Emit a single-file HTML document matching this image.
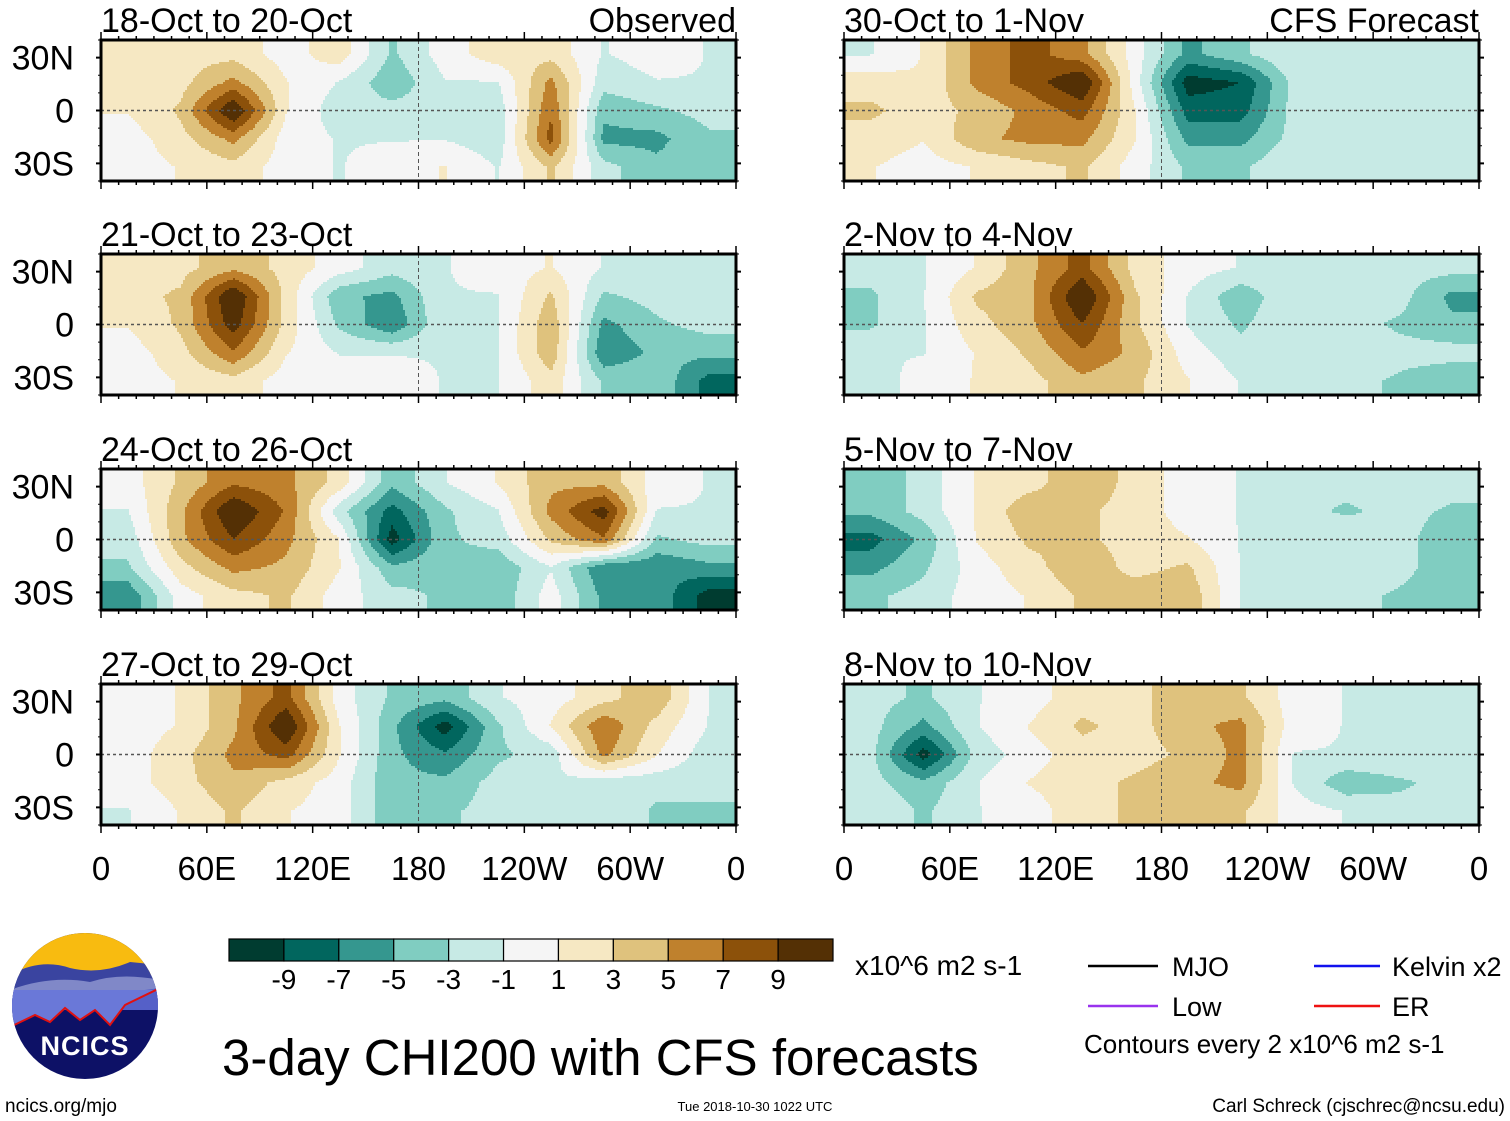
<!DOCTYPE html>
<html><head><meta charset="utf-8"><style>
html,body{margin:0;padding:0;background:#fff;width:1510px;height:1121px;overflow:hidden}
svg{display:block;font-family:"Liberation Sans",Arial,sans-serif}
</style></head><body>
<svg id="chart" width="1510" height="1121" viewBox="0 0 1510 1121" xmlns="http://www.w3.org/2000/svg">
<g id="panels"></g>
<g id="labels"></g>
<g id="cbar"></g>
<text x="855" y="975" font-size="28">x10^6 m2 s-1</text>
<g>
<line x1="1088" y1="966" x2="1158" y2="966" stroke="#000" stroke-width="2.5"/>
<text x="1172" y="976" font-size="27">MJO</text>
<line x1="1088" y1="1006" x2="1158" y2="1006" stroke="#9933ee" stroke-width="2.5"/>
<text x="1172" y="1016" font-size="27">Low</text>
<line x1="1314" y1="966" x2="1380" y2="966" stroke="#1111ee" stroke-width="2.5"/>
<text x="1392" y="976" font-size="27">Kelvin x2</text>
<line x1="1314" y1="1006" x2="1380" y2="1006" stroke="#ee1111" stroke-width="2.5"/>
<text x="1392" y="1016" font-size="27">ER</text>
<text x="1084" y="1053" font-size="26">Contours every 2 x10^6 m2 s-1</text>
</g>
<text x="222" y="1075" font-size="51">3-day CHI200 with CFS forecasts</text>
<text x="5" y="1112" font-size="19">ncics.org/mjo</text>
<text x="755" y="1111" font-size="13" text-anchor="middle">Tue 2018-10-30 1022 UTC</text>
<text x="1505" y="1112" font-size="19" text-anchor="end">Carl Schreck (cjschrec@ncsu.edu)</text>
<g>
<clipPath id="lc"><circle cx="85" cy="1006" r="73"/></clipPath>
<g clip-path="url(#lc)">
<rect x="10" y="930" width="150" height="155" fill="#0d1166"/>
<rect x="10" y="930" width="150" height="45" fill="#f8bb10"/>
<path d="M10 975 Q40 958 70 968 Q100 975 130 962 L160 965 L160 1010 L10 1010Z" fill="#3a44a0"/>
<path d="M10 990 Q50 975 90 982 Q120 972 160 980 L160 1010 L10 1010Z" fill="#8088c8"/>
<path d="M10 1000 Q60 990 100 996 L160 988 L160 1010 L10 1010Z" fill="#5560c8"/>
<path d="M10 1027 L35 1015 L50 1022 L65 1008 L80 1020 L95 1010 L110 1025 L125 1005 L160 988 L160 990 L10 990Z" fill="#6a78d8"/>
<path d="M10 1027 L35 1015 L50 1022 L65 1008 L80 1020 L95 1010 L110 1025 L125 1005 L160 988" fill="none" stroke="#e01010" stroke-width="2"/>
</g>
<text x="85" y="1055" font-size="27" font-weight="bold" fill="#fff" text-anchor="middle" letter-spacing="1">NCICS</text>
</g>
</svg>
<script>
// Colour levels (BrBG), contour levels
const levels = [-9,-7,-5,-3,-1,1,3,5,7,9];
const palette = ["#003c30","#01665e","#35978f","#80cdc1","#c7eae5","#f5f5f5","#f6e8c3","#dfc27d","#bf812d","#8c510a","#543005"];
const lonTicks = ["0","60E","120E","180","120W","60W","0"];
const latTicks = ["30N","0","30S"];
const latValues = [30,0,-30];
// grid: cols centered at lon 15,45,...,345 ; rows at lat 32,16,0,-16,-32
const gridLons = [15,45,75,105,135,165,195,225,255,285,315,345];
const gridLats = [32,16,0,-16,-32];
const titles = ["18-Oct to 20-Oct","21-Oct to 23-Oct","24-Oct to 26-Oct","27-Oct to 29-Oct","30-Oct to 1-Nov","2-Nov to 4-Nov","5-Nov to 7-Nov","8-Nov to 10-Nov"];
const p1 = [[2,2,2,0,2,-3,0,2,2,-1,0,-1],[1,2,5,1,-1,-4,-1,-1,5,-2,-1,-1],[1,3,10,1,-2,-2,-2,-2,6,-4,-3,-2],[0,2,5,0,-1,-1,-1,-2,7,-5,-5,-3],[0,1,2,0,-1,0,1,-1,3,-2,-4,-3]];
const p2 = [[2,2,4,2,0,-2,-1,0,1,-1,-1,-1],[2,3,10,2,-4,-5,-1,-1,3,-3,-2,-1],[1,3,9,2,-3,-6,-1,-1,4,-5,-3,-2],[0,2,6,1,-1,-1,-1,-1,4,-6,-4,-4],[0,1,2,0,0,0,-1,-1,2,-3,-3,-7]];
const p3 = [[0,3,6,5,2,-4,-1,1,4,4,0,-1],[-1,4,10,6,-2,-7,-3,-1,5,9,-1,-1],[-2,4,8,5,1,-9,-3,-2,3,6,-3,-2],[-3,2,5,4,1,-4,-3,-4,-1,-6,-6,-5],[-6,0,2,3,0,-2,-3,-4,0,-5,-5,-9]];
const p4 = [[0,1,4,7,0,-3,-4,-1,0,2,4,-1],[0,1,4,10,1,-4,-9,-3,1,6,2,-1],[0,2,5,7,1,-4,-6,-3,-2,5,1,-2],[0,2,4,2,0,-4,-4,-2,-1,-2,-2,-2],[-1,1,3,1,0,-4,-3,-2,-1,-1,-3,-3]];
const p5 = [[-1,1,5,7,5,0,-5,-3,-1,-1,-1,-2],[2,1,5,7,10,0,-9,-8,-2,-1,-1,-1],[3,2,3,5,7,1,-7,-7,-2,-1,-2,-1],[2,1,4,5,5,1,-5,-5,-2,-2,-2,-2],[1,0,1,2,3,0,-3,-3,-1,-1,-2,-2]];
const p6 = [[-2,-1,1,4,7,2,0,-1,-1,-2,-2,-2],[-3,-1,3,4,10,3,-1,-4,-1,-2,-2,-5],[-3,-1,2,4,8,3,-1,-3,-1,-2,-3,-4],[-1,-1,1,3,6,4,0,-2,-1,-1,-2,-2],[-2,0,1,2,4,3,1,-1,-1,-2,-3,-4]];
const p7 = [[-4,-2,1,2,4,2,0,-1,-2,-2,-1,-2],[-4,-2,1,4,3,2,0,-1,-2,-3,-2,-3],[-7,-4,1,3,3,2,1,-1,-1,-1,-2,-4],[-5,-3,0,2,4,2,3,-1,-2,-1,-2,-4],[-3,-2,0,1,3,4,4,-1,-1,-2,-3,-4]];
const p8 = [[-2,-3,-1,0,2,2,4,3,0,-1,-1,-1],[-2,-5,-1,1,3,2,4,5,0,-1,-1,-2],[-2,-9,-2,0,2,2,3,5,-1,-1,-1,-2],[-2,-4,-1,1,2,3,4,5,-1,-4,-3,-2],[-1,-3,-1,0,2,3,3,3,0,-1,-2,-2]];
const fields = [p1,p2,p3,p4,p5,p6,p7,p8];

const NS="http://www.w3.org/2000/svg";
function mk(tag, attrs, parent){const e=document.createElementNS(NS,tag);for(const k in attrs)e.setAttribute(k,attrs[k]);parent.appendChild(e);return e;}
const PW=635, PH=141, LAT0=40, LAT1=-40;
const panelX=[101,101,101,101,844,844,844,844];
const panelY=[40,254,469,684,40,254,469,684];
function xOf(px,lon){return px+lon/360*PW;}
function yOf(py,lat){return py+(LAT0-lat)/(LAT0-LAT1)*PH;}
function colorOf(v){let i=0;while(i<levels.length&&v>=levels[i])i++;return palette[i];}
function sample(f,lon,lat){
  let fx=(lon-15)/30, fy=(32-lat)/16;
  fx=Math.max(0,Math.min(gridLons.length-1,fx)); fy=Math.max(0,Math.min(gridLats.length-1,fy));
  const i0=Math.min(Math.floor(fx),gridLons.length-2), j0=Math.min(Math.floor(fy),gridLats.length-2);
  const tx=fx-i0, ty=fy-j0;
  const a=f[j0][i0],b=f[j0][i0+1],c=f[j0+1][i0],d=f[j0+1][i0+1];
  return 1.12*((a*(1-tx)+b*tx)*(1-ty)+(c*(1-tx)+d*tx)*ty);
}
const panels=document.getElementById('panels');
const labels=document.getElementById('labels');
fields.forEach((f,k)=>{
  const px=panelX[k], py=panelY[k];
  const g=mk('g',{},panels);
  
  
  const step=2;
  for(let y=0;y<PH;y+=step){
    const lat=LAT0-(y+step/2)/PH*(LAT0-LAT1);
    let runStart=0, runCol=null;
    for(let x=0;x<PW+step;x+=step){
      const col = x<PW ? colorOf(sample(f,(x+step/2)/PW*360,lat)) : null;
      if(col!==runCol){
        if(runCol!==null){
          const xe=Math.min(x,PW);
          const r=mk('rect',{x:px+runStart,y:py+y,width:xe-runStart+0.6,height:Math.min(step+0.6,PH-y),fill:runCol},g);
          
          
        }
        runStart=x; runCol=col;
      }
    }
  }
  mk('line',{x1:px,y1:yOf(py,0),x2:px+PW,y2:yOf(py,0),stroke:'#555','stroke-width':1.5,'stroke-dasharray':'3,3'},g);
  mk('line',{x1:xOf(px,180),y1:py,x2:xOf(px,180),y2:py+PH,stroke:'#555','stroke-width':1,'stroke-dasharray':'4,3'},g);
  mk('rect',{x:px,y:py,width:PW,height:PH,fill:'none',stroke:'#000','stroke-width':3},g);
  for(let lon=0;lon<=360;lon+=10){
    const L=lon%60===0?8:4, X=xOf(px,lon);
    mk('line',{x1:X,y1:py,x2:X,y2:py-L,stroke:'#000','stroke-width':1.5},g);
    mk('line',{x1:X,y1:py+PH,x2:X,y2:py+PH+L,stroke:'#000','stroke-width':1.5},g);
  }
  latValues.forEach((lat,i)=>{
    const Y=yOf(py,lat);
    mk('line',{x1:px,y1:Y,x2:px-5,y2:Y,stroke:'#000','stroke-width':2},g);
    mk('line',{x1:px+PW,y1:Y,x2:px+PW+5,y2:Y,stroke:'#000','stroke-width':2},g);
    if(k<4){
      const t=mk('text',{x:74,y:Y+12,'font-size':34,'text-anchor':'end'},labels);
      t.textContent=latTicks[i];
      
      
    }
  });
  for(let lat=-40;lat<=40;lat+=10){ if(lat%30===0)continue; const Y=yOf(py,lat);
    mk('line',{x1:px,y1:Y,x2:px-3,y2:Y,stroke:'#000','stroke-width':1},g);
    mk('line',{x1:px+PW,y1:Y,x2:px+PW+3,y2:Y,stroke:'#000','stroke-width':1},g);}
  const t=mk('text',{x:px,y:py-8,'font-size':34},labels);
  t.textContent=titles[k];
  
  
  if(k===3||k===7){
    lonTicks.forEach((s,i)=>{
      const tt=mk('text',{x:xOf(px,i*60),y:py+PH+55,'font-size':33,'text-anchor':'middle'},labels);
      tt.textContent=s;
      
      
    });
  }
});
[["Observed",736],["CFS Forecast",1479]].forEach(([s,x])=>{
  const t=mk('text',{x:x,y:32,'font-size':34,'text-anchor':'end'},labels);
  t.textContent=s;
  
  
});
const cb=document.getElementById('cbar');
const cbX=229, cbW=604, cbY=939, cbH=22, bw=cbW/palette.length;
palette.forEach((c,i)=>{
  const r=mk('rect',{x:cbX+i*bw,y:cbY,width:bw,height:cbH,fill:c,stroke:'#000','stroke-width':1.2},cb);
  
  
});
levels.forEach((v,i)=>{
  const t=mk('text',{x:cbX+(i+1)*bw,y:989,'font-size':28,'text-anchor':'middle'},cb);
  t.textContent=String(v);
  
  
});
</script>
</body></html>
